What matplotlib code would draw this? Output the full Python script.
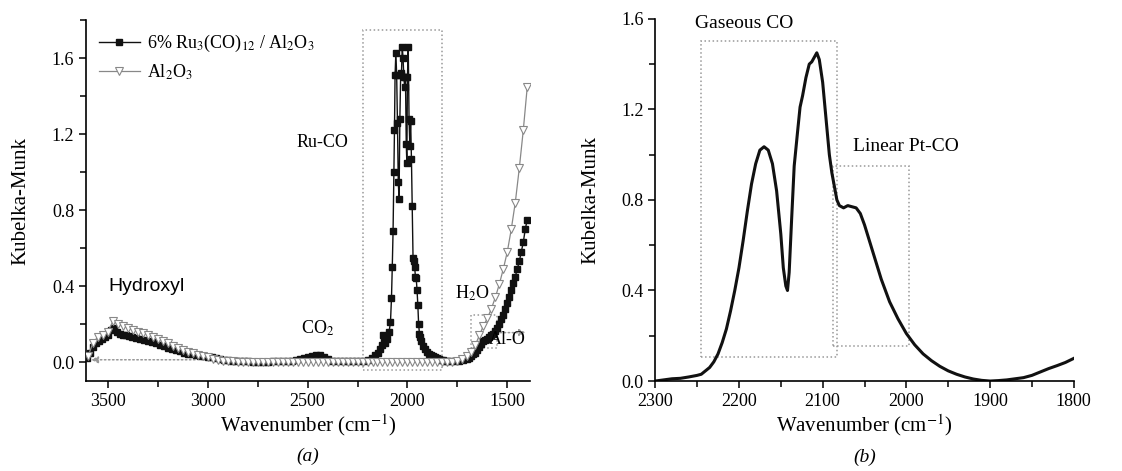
import matplotlib
matplotlib.use("Agg")
import matplotlib.pyplot as plt
from matplotlib.patches import Rectangle
from matplotlib.ticker import MultipleLocator, FormatStrFormatter

plt.rcParams["font.family"] = ["Liberation Serif", "DejaVu Serif"]
plt.rcParams["mathtext.fontset"] = "stix"

# ── (a) 6% Ru3(CO)12 / Al2O3 (검정 사각) ─────────────────────────
ru_wn = [3605, 3590, 3575, 3560, 3545, 3530, 3515, 3500, 3485, 3470, 3455, 3440,
         3425, 3410, 3395, 3380, 3360, 3340, 3320, 3300, 3280, 3260, 3240, 3220,
         3200, 3180, 3160, 3140, 3120, 3100, 3080, 3060, 3040, 3020, 3000, 2980,
         2960, 2940, 2920, 2900, 2880, 2860, 2840, 2820, 2800, 2775, 2750, 2725,
         2700, 2675, 2650, 2625, 2600, 2580, 2560, 2540, 2520, 2500, 2480, 2460,
         2440, 2420, 2400, 2380, 2360, 2340, 2320, 2300, 2280, 2260, 2240, 2220,
         2200, 2180, 2160, 2145, 2135, 2125, 2120, 2115, 2110, 2100, 2092, 2085,
         2080, 2076, 2072, 2068, 2065, 2062, 2058, 2054, 2050, 2046, 2042, 2038,
         2034, 2030, 2026, 2022, 2018, 2014, 2010, 2006, 2003, 2000, 1996, 1992,
         1988, 1984, 1980, 1976, 1972, 1968, 1964, 1960, 1956, 1952, 1948, 1944,
         1940, 1935, 1930, 1920, 1910, 1900, 1890, 1880, 1870, 1860, 1850, 1840,
         1830, 1820, 1810, 1800, 1780, 1760, 1740, 1720, 1700, 1690, 1680, 1670,
         1660, 1650, 1640, 1630, 1620, 1610, 1600, 1590, 1580, 1570, 1560, 1550,
         1540, 1530, 1520, 1510, 1500, 1490, 1480, 1470, 1460, 1450, 1440, 1430,
         1420, 1410, 1400]
ru_km = [0.02, 0.05, 0.08, 0.10, 0.11, 0.12, 0.13, 0.145, 0.17, 0.178, 0.16, 0.15,
         0.145, 0.14, 0.135, 0.13, 0.125, 0.12, 0.115, 0.11, 0.105, 0.098, 0.09, 0.083,
         0.076, 0.07, 0.063, 0.057, 0.05, 0.045, 0.04, 0.035, 0.031, 0.03, 0.028, 0.024,
         0.02, 0.016, 0.012, 0.009, 0.007, 0.005, 0.004, 0.003, 0.003, 0.002, 0.002, 0.002,
         0.002, 0.003, 0.003, 0.004, 0.005, 0.008, 0.012, 0.016, 0.02, 0.025, 0.032, 0.037,
         0.036, 0.028, 0.015, 0.008, 0.004, 0.003, 0.003, 0.003, 0.003, 0.004, 0.004, 0.005,
         0.012, 0.02, 0.035, 0.05, 0.07, 0.09, 0.14, 0.12, 0.10, 0.12, 0.16, 0.21,
         0.335, 0.50, 0.69, 1.00, 1.22, 1.51, 1.63, 1.51, 1.26, 0.95, 0.86, 1.28,
         1.51, 1.52, 1.66, 1.60, 1.50, 1.45, 1.50, 1.15, 1.05, 1.50, 1.66, 1.28,
         1.14, 1.27, 1.07, 0.82, 0.55, 0.53, 0.50, 0.45, 0.44, 0.38, 0.30, 0.20,
         0.15, 0.13, 0.11, 0.085, 0.068, 0.055, 0.045, 0.037, 0.03, 0.024, 0.019, 0.015,
         0.012, 0.01, 0.008, 0.006, 0.005, 0.006, 0.008, 0.012, 0.018, 0.023, 0.03, 0.04,
         0.05, 0.065, 0.08, 0.095, 0.11, 0.118, 0.122, 0.13, 0.14, 0.15, 0.165, 0.18,
         0.20, 0.225, 0.25, 0.28, 0.31, 0.345, 0.38, 0.415, 0.45, 0.49, 0.53, 0.58,
         0.63, 0.70, 0.75]

# ── (a) Al2O3 (회색 역삼각) ─────────────────────────────────────
al_wn = [3600, 3575, 3550, 3525, 3500, 3475, 3450, 3425, 3400, 3375, 3350, 3325,
         3300, 3275, 3250, 3225, 3200, 3175, 3150, 3125, 3100, 3075, 3050, 3025,
         3000, 2975, 2950, 2925, 2900, 2875, 2850, 2825, 2800, 2775, 2750, 2725,
         2700, 2675, 2650, 2625, 2600, 2575, 2550, 2525, 2500, 2475, 2450, 2425,
         2400, 2375, 2350, 2325, 2300, 2275, 2250, 2225, 2200, 2175, 2150, 2125,
         2100, 2075, 2050, 2025, 2000, 1975, 1950, 1925, 1900, 1875, 1850, 1825,
         1800, 1775, 1750, 1725, 1700, 1680, 1660, 1640, 1620, 1600, 1580, 1560,
         1540, 1520, 1500, 1480, 1460, 1440, 1420, 1400]
al_km = [0.03, 0.10, 0.13, 0.14, 0.16, 0.215, 0.20, 0.19, 0.178, 0.168, 0.16, 0.152,
         0.144, 0.134, 0.123, 0.111, 0.099, 0.087, 0.076, 0.065, 0.055, 0.046, 0.038, 0.031,
         0.025, 0.018, 0.012, 0.008, 0.005, 0.003, 0.002, 0.001, 0.0, 0.0, 0.0, 0.0,
         0.0, 0.0, 0.0, 0.0, 0.0, 0.0, 0.0, 0.0, 0.0, 0.0, 0.0, 0.0,
         0.0, 0.0, 0.0, 0.0, 0.0, 0.0, 0.0, 0.0, 0.0, 0.0, 0.0, 0.0,
         0.0, 0.0, 0.0, 0.0, 0.0, 0.0, 0.0, 0.0, 0.0, 0.0, 0.0, 0.0,
         0.0, 0.002, 0.006, 0.015, 0.03, 0.055, 0.09, 0.14, 0.19, 0.23, 0.28, 0.34,
         0.41, 0.49, 0.58, 0.70, 0.84, 1.02, 1.22, 1.45]

# ── (b) CO 흡착 스펙트럼 ───────────────────────────────────────
co_wn = [2300, 2290, 2280, 2270, 2260, 2250, 2245, 2240, 2235, 2230, 2225, 2220,
         2215, 2210, 2205, 2200, 2195, 2190, 2185, 2180, 2175, 2170, 2165, 2160,
         2155, 2150, 2147, 2144, 2142, 2140, 2137, 2134, 2130, 2127, 2124, 2120,
         2116, 2113, 2110, 2107, 2104, 2100, 2096, 2092, 2089, 2086, 2083, 2080,
         2075, 2070, 2065, 2060, 2055, 2050, 2045, 2040, 2035, 2030, 2020, 2010,
         2000, 1990, 1980, 1970, 1960, 1950, 1940, 1930, 1920, 1910, 1900, 1890,
         1880, 1870, 1860, 1850, 1840, 1830, 1820, 1810, 1800]
co_km = [0.0, 0.005, 0.01, 0.012, 0.018, 0.025, 0.03, 0.045, 0.06, 0.085, 0.12, 0.17,
         0.23, 0.31, 0.40, 0.50, 0.62, 0.75, 0.87, 0.96, 1.02, 1.035, 1.02, 0.96,
         0.84, 0.65, 0.50, 0.42, 0.40, 0.48, 0.72, 0.95, 1.10, 1.21, 1.26, 1.34,
         1.40, 1.41, 1.43, 1.45, 1.42, 1.32, 1.16, 1.00, 0.92, 0.86, 0.80, 0.775,
         0.765, 0.775, 0.77, 0.765, 0.74, 0.69, 0.63, 0.57, 0.51, 0.45, 0.35, 0.275,
         0.21, 0.16, 0.12, 0.09, 0.065, 0.045, 0.03, 0.018, 0.009, 0.003, 0.0, 0.002,
         0.005, 0.01, 0.015, 0.025, 0.04, 0.055, 0.068, 0.082, 0.10]

BOX = dict(fill=False, ec="#999", ls=":", lw=1.1)
TICK = 13
LABEL = 15


def style(ax):
    for s in ("top", "right"):
        ax.spines[s].set_visible(False)
    for s in ("left", "bottom"):
        ax.spines[s].set_linewidth(1.2)
    ax.tick_params(which="both", direction="out", labelsize=TICK, width=1.1)
    ax.tick_params(which="major", length=5)
    ax.tick_params(which="minor", length=4)
    ax.set_xlabel("Wavenumber (cm$^{-1}$)", fontsize=LABEL, labelpad=2)
    ax.set_ylabel("Kubelka-Munk", fontsize=LABEL, labelpad=15)


fig = plt.figure(figsize=(11.22, 4.71), dpi=100)
ax1 = fig.add_axes([0.0766, 0.191, 0.396, 0.766])
ax2 = fig.add_axes([0.584, 0.191, 0.373, 0.769])

# (a)
ax1.plot(ru_wn, ru_km, color="#111", lw=1.0, marker="s", ms=3.8, mfc="#111",
         mec="#111", label=r"6% Ru$_3$(CO)$_{12}$ / Al$_2$O$_3$", zorder=3)
ax1.plot(al_wn, al_km, color="#888", lw=0.9, marker="v", ms=5.5, mfc="white",
         mec="#888", mew=0.8, label=r"Al$_2$O$_3$", zorder=4)
ax1.set_xlim(3610, 1385)
ax1.set_ylim(-0.1, 1.8)
ax1.xaxis.set_major_locator(MultipleLocator(500))
ax1.xaxis.set_minor_locator(MultipleLocator(250))
ax1.yaxis.set_major_locator(MultipleLocator(0.4))
ax1.yaxis.set_minor_locator(MultipleLocator(0.2))
ax1.yaxis.set_major_formatter(FormatStrFormatter("%.1f"))
style(ax1)

ax1.add_patch(Rectangle((2225, -0.042), -400, 1.789, **BOX))
ax1.add_patch(Rectangle((1680, 0.075), -130, 0.175, **BOX))
ax1.annotate("", xy=(3598, 0.012), xytext=(3050, 0.012),
             arrowprops=dict(arrowstyle="-|>", color="#999", ls=":", lw=1.1,
                             mutation_scale=10), zorder=2)
ax1.annotate("", xy=(1392, 0.155), xytext=(1550, 0.155),
             arrowprops=dict(arrowstyle="-|>", color="#999", ls=":", lw=1.1,
                             mutation_scale=10), zorder=2)

ax1.text(3500, 0.40, "Hydroxyl", family=["Liberation Sans", "DejaVu Sans"],
         fontsize=14, va="center")
ax1.text(2555, 1.157, "Ru-CO", fontsize=13, va="center")
ax1.text(2535, 0.18, "CO$_2$", fontsize=13, va="center")
ax1.text(1762, 0.36, "H$_2$O", fontsize=13, va="center")
ax1.text(1592, 0.12, "Al-O", fontsize=13, va="center", clip_on=False)
ax1.legend(loc="upper left", bbox_to_anchor=(0.0, 1.0), frameon=False,
           fontsize=13, handlelength=2.3, handletextpad=0.4, labelspacing=0.45,
           borderaxespad=0.3)
ax1.text(0.5, -0.21, "(a)", transform=ax1.transAxes, ha="center", va="center",
         fontsize=14, style="italic")

# (b)
ax2.plot(co_wn, co_km, color="#111", lw=2.2)
ax2.set_xlim(2300, 1800)
ax2.set_ylim(0, 1.6)
ax2.xaxis.set_major_locator(MultipleLocator(100))
ax2.xaxis.set_minor_locator(MultipleLocator(50))
ax2.yaxis.set_major_locator(MultipleLocator(0.4))
ax2.yaxis.set_minor_locator(MultipleLocator(0.2))
ax2.yaxis.set_major_formatter(FormatStrFormatter("%.1f"))
style(ax2)

ax2.add_patch(Rectangle((2245, 0.105), -162, 1.395, **BOX))
ax2.add_patch(Rectangle((2088, 0.155), -91, 0.795, **BOX))
ax2.text(2253, 1.58, "Gaseous CO", fontsize=14, va="center")
ax2.text(2064, 1.035, "Linear Pt-CO", fontsize=14, va="center")
ax2.text(0.5, -0.21, "(b)", transform=ax2.transAxes, ha="center", va="center",
         fontsize=14, style="italic")

fig.savefig("out.png", dpi=100)
